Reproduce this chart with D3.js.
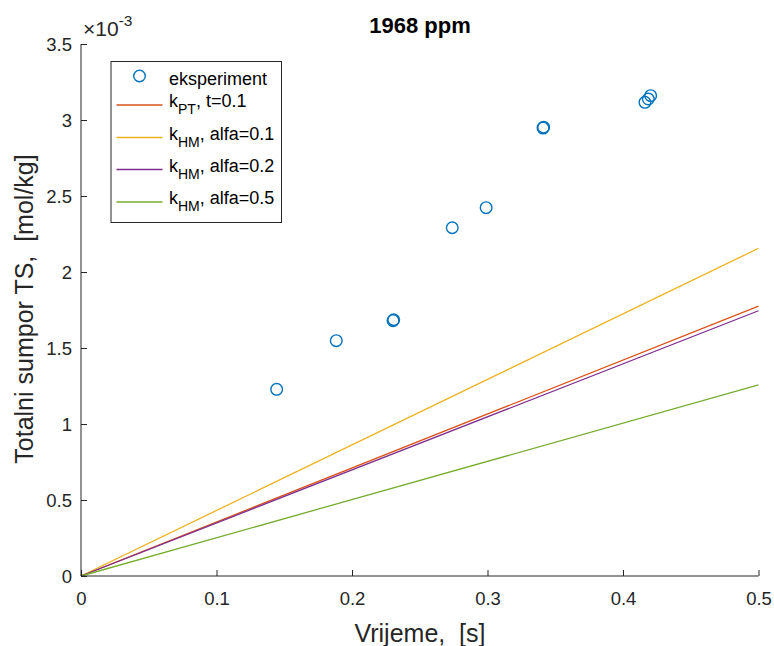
<!DOCTYPE html>
<html><head><meta charset="utf-8">
<script src="https://cdn.jsdelivr.net/npm/d3@7"></script>
<style>
body{margin:0;background:#fff;}
svg text{font-family:"Liberation Sans",Arial,Helvetica,sans-serif;white-space:pre;}
</style></head>
<body><svg id="c" width="774" height="646"></svg>
<script>
// experimental points
const expX = [0.1444, 0.1884, 0.2303, 0.2308, 0.2740, 0.2990, 0.3410, 0.3414, 0.4162, 0.4187, 0.4204];
const expY = [1.228, 1.548, 1.680, 1.686, 2.291, 2.423, 2.947, 2.953, 3.116, 3.138, 3.160];
// model lines (x in s, y in 1e-3 mol/kg)
const lineX = [0, 0.5];
const kPT_t01 = [0, 1.776];
const kHM_a01 = [0, 2.156];
const kHM_a02 = [0, 1.745];
const kHM_a05 = [0, 1.257];
const xTicks = [0, 0.1, 0.2, 0.3, 0.4, 0.5];
const yTicks = [0, 0.5, 1, 1.5, 2, 2.5, 3, 3.5];

const series = [
  {y: kPT_t01, color: "#D95319", sub: "PT", rest: ", t=0.1"},
  {y: kHM_a01, color: "#EDB120", sub: "HM", rest: ", alfa=0.1"},
  {y: kHM_a02, color: "#7E2F8E", sub: "HM", rest: ", alfa=0.2"},
  {y: kHM_a05, color: "#77AC30", sub: "HM", rest: ", alfa=0.5"}
];

const svg = d3.select("#c");
const L = 81, R = 758.5, T = 44, B = 576;
const x = d3.scaleLinear().domain([0, 0.5]).range([L, R]);
const y = d3.scaleLinear().domain([0, 3.5]).range([B, T]);
const axCol = "#262626";

// lines
series.forEach(s => {
  svg.append("path")
    .datum(lineX.map((v, i) => [v, s.y[i]]))
    .attr("d", d3.line().x(d => x(d[0])).y(d => y(d[1])))
    .attr("fill", "none").attr("stroke", s.color).attr("stroke-width", 1.3);
});

// points
svg.selectAll("circle.pt").data(expX.map((v, i) => [v, expY[i]])).enter()
  .append("circle").attr("class", "pt")
  .attr("cx", d => x(d[0])).attr("cy", d => y(d[1])).attr("r", 5.8)
  .attr("fill", "none").attr("stroke", "#0072BD").attr("stroke-width", 1.4);

// axes
const xAxis = d3.axisBottom(x).tickValues(xTicks).tickSize(-6).tickPadding(16)
  .tickFormat(d => d === 0 ? "0" : d3.format(".1f")(d));
const gx = svg.append("g").attr("transform", `translate(0,${B})`).call(xAxis);
const yAxis = d3.axisLeft(y).tickValues(yTicks).tickSize(-6).tickPadding(9)
  .tickFormat(d => d === 0 ? "0" : (Number.isInteger(d) ? String(d) : d3.format(".1f")(d)));
const gy = svg.append("g").attr("transform", `translate(${L},0)`).call(yAxis);
[gx, gy].forEach(g => {
  g.selectAll("path.domain").attr("stroke", axCol).attr("stroke-width", 1).attr("d",
    g === gx ? `M${L},0H${R}` : `M0,${B}V${T}`);
  g.selectAll("line").attr("stroke", axCol);
  g.selectAll("text").attr("fill", axCol).style("font-size", "18.5px");
});
gx.selectAll("text").attr("dy", "0.71em");
gy.selectAll("text").attr("dy", "0.35em");

// exponent
const ex = svg.append("text").attr("x", 83).attr("y", 36).attr("fill", axCol).style("font-size", "21px");
ex.append("tspan").text("\u00d710");
ex.append("tspan").attr("dy", -10).style("font-size", "15.5px").text("-3");

// title
svg.append("text").attr("x", 420).attr("y", 33).attr("text-anchor", "middle")
  .style("font-size", "22px").style("font-weight", "bold").attr("fill", "#000").text("1968 ppm");

// axis labels
svg.append("text").attr("x", 420).attr("y", 642).attr("text-anchor", "middle")
  .style("font-size", "25px").attr("fill", axCol).text("Vrijeme,  [s]");
svg.append("text").attr("transform", "translate(33,309) rotate(-90)").attr("text-anchor", "middle")
  .style("font-size", "25px").attr("fill", axCol).text("Totalni sumpor TS,  [mol/kg]");

// legend
const lg = svg.append("g");
lg.append("rect").attr("x", 111).attr("y", 61.5).attr("width", 170.5).attr("height", 161)
  .attr("fill", "#fff").attr("stroke", axCol).attr("stroke-width", 1);
const rowY = [76, 105, 137.5, 169.5, 202];
lg.append("circle").attr("cx", 139.5).attr("cy", rowY[0]).attr("r", 5.8)
  .attr("fill", "none").attr("stroke", "#0072BD").attr("stroke-width", 1.4);
lg.append("text").attr("x", 169).attr("y", rowY[0] + 8.5).style("font-size", "18px").attr("fill", "#000").text("eksperiment");
series.forEach((s, i) => {
  const yy = rowY[i + 1];
  lg.append("line").attr("x1", 116.5).attr("x2", 162.5).attr("y1", yy).attr("y2", yy)
    .attr("stroke", s.color).attr("stroke-width", 1.3);
  const t = lg.append("text").attr("x", 169).attr("y", yy + 2).style("font-size", "18px").attr("fill", "#000");
  t.append("tspan").text("k");
  t.append("tspan").attr("dy", 7).style("font-size", "14px").text(s.sub);
  t.append("tspan").attr("dy", -7).text(s.rest);
});
</script></body></html>
